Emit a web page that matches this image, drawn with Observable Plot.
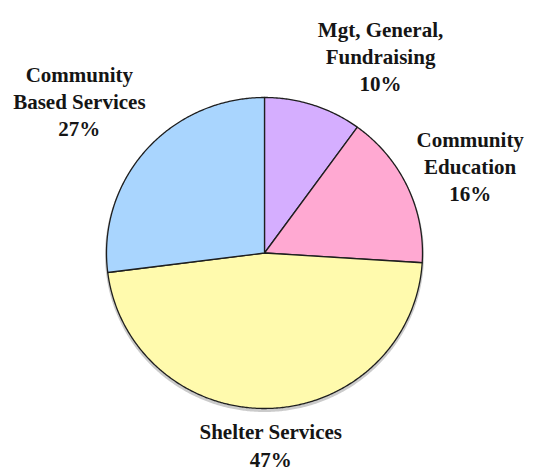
<!DOCTYPE html>
<html><head><meta charset="utf-8">
<script src="https://cdn.jsdelivr.net/npm/d3@7"></script>
<script src="https://cdn.jsdelivr.net/npm/@observablehq/plot@0.6"></script>
<style>body{margin:0;background:#fff}</style>
</head><body><div id="chart"></div>
<script>
const categories = ["Mgt, General,\nFundraising", "Community\nEducation", "Shelter Services", "Community\nBased Services"];
const percents = [10, 16, 47, 27];
const colors = ["#d5aeff", "#ffa9d2", "#fffaad", "#a9d5fe"];

const total = d3.sum(percents);
let cum = 0;
const slices = categories.map((c, i) => {
  const a0 = cum / total * 2 * Math.PI; cum += percents[i];
  const a1 = cum / total * 2 * Math.PI;
  return {category: c, value: percents[i], a0, a1, mid: (a0 + a1) / 2};
});

// polygon outline of each slice (centre + arc)
const pts = [];
for (const s of slices) {
  pts.push({cat: s.category, x: 0, y: 0});
  const n = Math.max(2, Math.ceil((s.a1 - s.a0) / (Math.PI / 360)));
  for (let k = 0; k <= n; k++) {
    const a = s.a0 + (s.a1 - s.a0) * k / n;
    pts.push({cat: s.category, x: Math.sin(a), y: Math.cos(a)});
  }
}
const ring = d3.range(0, 721).map(k => ({x: Math.sin(k / 720 * 2 * Math.PI), y: Math.cos(k / 720 * 2 * Math.PI)}));

const R = 1.25;
const nudge = [[55, -13], [27, -5], [0, -3], [-37, -24]];
const labelMarks = slices.map((s, i) => Plot.text([s], {
  x: d => R * Math.sin(d.mid),
  y: d => R * Math.cos(d.mid),
  text: d => d.category + "\n" + d.value + "%",
  dx: nudge[i][0], dy: nudge[i][1],
  fontSize: 21, fontWeight: "bold", lineHeight: 1.3,
  fill: "#151515", textAnchor: "middle", lineAnchor: "middle"
}));

const chart = Plot.plot({
  width: 543, height: 475, margin: 0,
  style: {fontFamily: "'Liberation Serif', 'DejaVu Serif', serif", background: "#fff"},
  x: {domain: [-1, 1], range: [106, 422], axis: null},
  y: {domain: [-1, 1], range: [408, 97], axis: null},
  color: {domain: categories, range: colors},
  marks: [
    Plot.line(ring, {x: "x", y: "y", curve: "linear-closed", stroke: "#a0a0a0", strokeWidth: 3, strokeOpacity: 0.55, dx: 0, dy: 2}),
    Plot.line(pts, {x: "x", y: "y", z: "cat", fill: "cat", stroke: "#1e1e1e", strokeWidth: 1.3, strokeLinejoin: "round", curve: "linear-closed"}),
    ...labelMarks
  ]
});
document.getElementById("chart").appendChild(chart);
</script>
</body></html>
